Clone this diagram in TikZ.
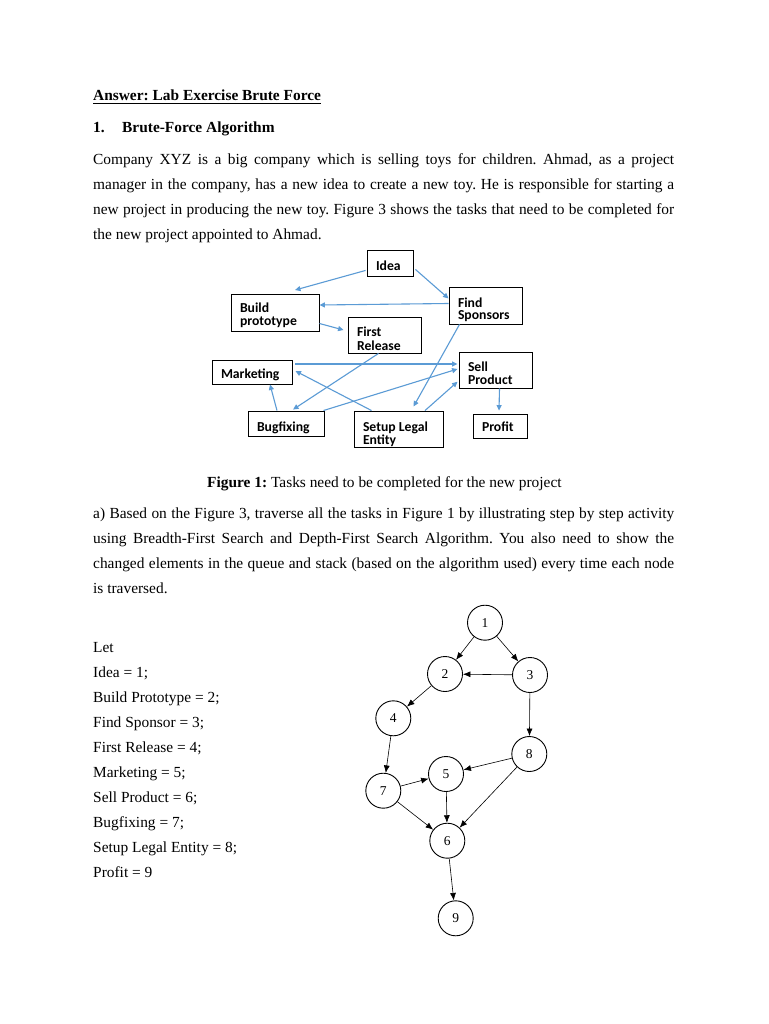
\documentclass[tikz,border=0pt]{standalone}
\usepackage{fontspec}
\setmainfont{Liberation Serif}
\newfontfamily\boxfont{Carlito}
\usetikzlibrary{arrows.meta,calc}
\definecolor{flowblue}{RGB}{91,155,213}
\newcommand{\bl}[1]{\begin{tabular}[t]{@{}l@{}}#1\end{tabular}}
\newcommand{\bxt}[2]{\makebox[#1][l]{\bl{#2}}}
\frenchspacing
\begin{document}
\begin{tikzpicture}[x=1pt,y=-1pt,
  body/.style={anchor=base west, inner sep=0pt, font=\fontsize{15.4}{25}\selectfont},
  bodyb/.style={body, font=\fontsize{15.4}{25}\selectfont\bfseries},
  taskbox/.style={draw=black, line width=0.9pt, inner xsep=9pt, inner ysep=0pt,
    font=\boxfont\bfseries\fontsize{13.7}{12.6}\selectfont, text depth=0pt},
  flow/.style={draw=flowblue, line width=1.1pt, -{Triangle[length=5.5pt,width=5pt]}},
  gnode/.style={circle, draw=black, line width=0.9pt, minimum size=35pt, inner sep=0pt,
    font=\fontsize{13.5}{15}\selectfont},
  garr/.style={draw=black, line width=0.6pt, -{Latex[length=7.5pt,width=6pt]}}
]
\fill[white] (0,0) rectangle (768,1024);
\useasboundingbox (0,0) rectangle (768,1024);

% ---------- text ----------
\node[bodyb] (h1) at (93,101) {Answer: Lab Exercise Brute Force};
\draw[line width=1.1pt] ($(h1.base west)+(0,2.6)$) -- ($(h1.base east)+(0,2.6)$);
\node[bodyb] (h2) at (93,133) {\makebox[29pt][l]{1.}Brute-Force Algorithm};
\node[body] (p1) at (93,165) {\parbox[t]{581pt}{%
\makebox[581pt][s]{Company XYZ is a big company which is selling toys for children. Ahmad, as a project}\\
\makebox[581pt][s]{manager in the company, has a new idea to create a new toy. He is responsible for starting a}\\
\makebox[581pt][s]{new project in producing the new toy. Figure 3 shows the tasks that need to be completed for}\\
the new project appointed to Ahmad.}};

\node[body] (cap) at (207,487) {\textbf{Figure 1:} Tasks need to be completed for the new project};

\node[body] (p2) at (93,518) {\parbox[t]{581pt}{\fontsize{15.4}{25.2}\selectfont
\makebox[581pt][s]{a) Based on the Figure 3, traverse all the tasks in Figure 1 by illustrating step by step activity}\\
\makebox[581pt][s]{using Breadth-First Search and Depth-First Search Algorithm. You also need to show the}\\
\makebox[581pt][s]{changed elements in the queue and stack (based on the algorithm used) every time each node}\\
is traversed.}};

\node[body] (lst) at (93,652) {\parbox[t]{300pt}{\fontsize{15.4}{25.1}\selectfont
Let\\
Idea = 1;\\
Build Prototype = 2;\\
Find Sponsor = 3;\\
First Release = 4;\\
Marketing = 5;\\
Sell Product = 6;\\
Bugfixing = 7;\\
Setup Legal Entity = 8;\\
Profit = 9}};

% ---------- task boxes ----------
\node[taskbox, minimum width=46pt, minimum height=26pt, text height=14pt] (idea) at (390,263) {\bxt{28pt}{Idea}};
\node[taskbox, minimum width=73pt, minimum height=37pt, text height=3pt] (fs) at (485.5,305.5) {\bxt{55pt}{Find\\Sponsors}};
\node[taskbox, minimum width=88pt, minimum height=37pt, text height=0pt] (bp) at (275,312.5) {\bxt{70pt}{Build\\prototype}};
\node[taskbox, minimum width=73pt, minimum height=36pt, text height=3.4pt] (fr) at (384.5,335) {\bxt{55pt}{First\\Release}};
\node[taskbox, minimum width=80pt, minimum height=24pt, text height=12pt] (mk) at (252,372) {\bxt{62pt}{Marketing}};
\node[taskbox, minimum width=73pt, minimum height=36pt, text height=2pt] (sp) at (495.5,370) {\bxt{55pt}{Sell\\Product}};
\node[taskbox, minimum width=76pt, minimum height=25pt, text height=15pt] (bf) at (286,423.5) {\bxt{58pt}{Bugfixing}};
\node[taskbox, minimum width=89pt, minimum height=36pt, text height=4pt] (sl) at (398.5,429) {\bxt{71pt}{Setup Legal\\Entity}};
\node[taskbox, minimum width=54pt, minimum height=24pt, text height=11.4pt] (pf) at (500,426) {\bxt{36pt}{Profit}};

% ---------- task arrows ----------
\draw[flow] ($(idea.south west)+(-1,-6)$) -- ($(bp.north)+(20,-3.5)$);
\draw[flow] ($(idea.south east)+(2,-7)$) -- ($(fs.west)+(0,-7)$);
\draw[flow] ($(fs.west)+(0,-2)$) -- ($(bp.east)+(0,-7.5)$);
\draw[flow] ($(bp.east)+(0,11)$) -- ($(fr.west)+(-4,-5)$);
\draw[flow] ($(fr.south)+(-6,0)$) -- ($(bf.north)+(7,-1)$);
\draw[flow] ($(fs.south)+(-26,0)$) -- ($(sl.north)+(15,-4)$);
\draw[flow] ($(mk.east)+(3,-8)$) -- ($(sp.west)+(-1,-6)$);
\draw[flow] ($(sl.north)+(-27,0)$) -- ($(mk.east)+(3,-1)$);
\draw[flow] ($(bf.north east)+(-1,0)$) -- ($(sp.west)+(-1,-1)$);
\draw[flow] ($(bf.north)+(-9,0)$) -- ($(mk.south)+(18,0)$);
\draw[flow] ($(sl.north)+(26.5,0)$) -- ($(sp.west)+(-1,11.7)$);
\draw[flow] ($(sp.south)+(4,0)$) -- ($(pf.north)+(-1,-3)$);

% ---------- graph ----------
\node[gnode] (n1) at (485,622.7) {1};
\node[gnode] (n2) at (445,674) {2};
\node[gnode] (n3) at (530,675) {3};
\node[gnode] (n4) at (393.3,718.3) {4};
\node[gnode] (n8) at (529.3,754) {8};
\node[gnode] (n5) at (446,774) {5};
\node[gnode] (n7) at (383.3,790.7) {7};
\node[gnode] (n6) at (447.3,840.7) {6};
\node[gnode] (n9) at (455.7,918.3) {9};

\draw[garr] (n1) -- (n2);
\draw[garr] (n1) -- (n3);
\draw[garr] (n3) -- (n2);
\draw[garr] (n2) -- (n4);
\draw[garr] (n3) -- (n8);
\draw[garr] (n4) -- (n7);
\draw[garr] (n8) -- (n5);
\draw[garr] (n7) -- (n5);
\draw[garr] (n5) -- (n6);
\draw[garr] (n7) -- (n6);
\draw[garr] (n8) -- (n6);
\draw[garr] (n6) -- (n9);
\end{tikzpicture}
\end{document}
